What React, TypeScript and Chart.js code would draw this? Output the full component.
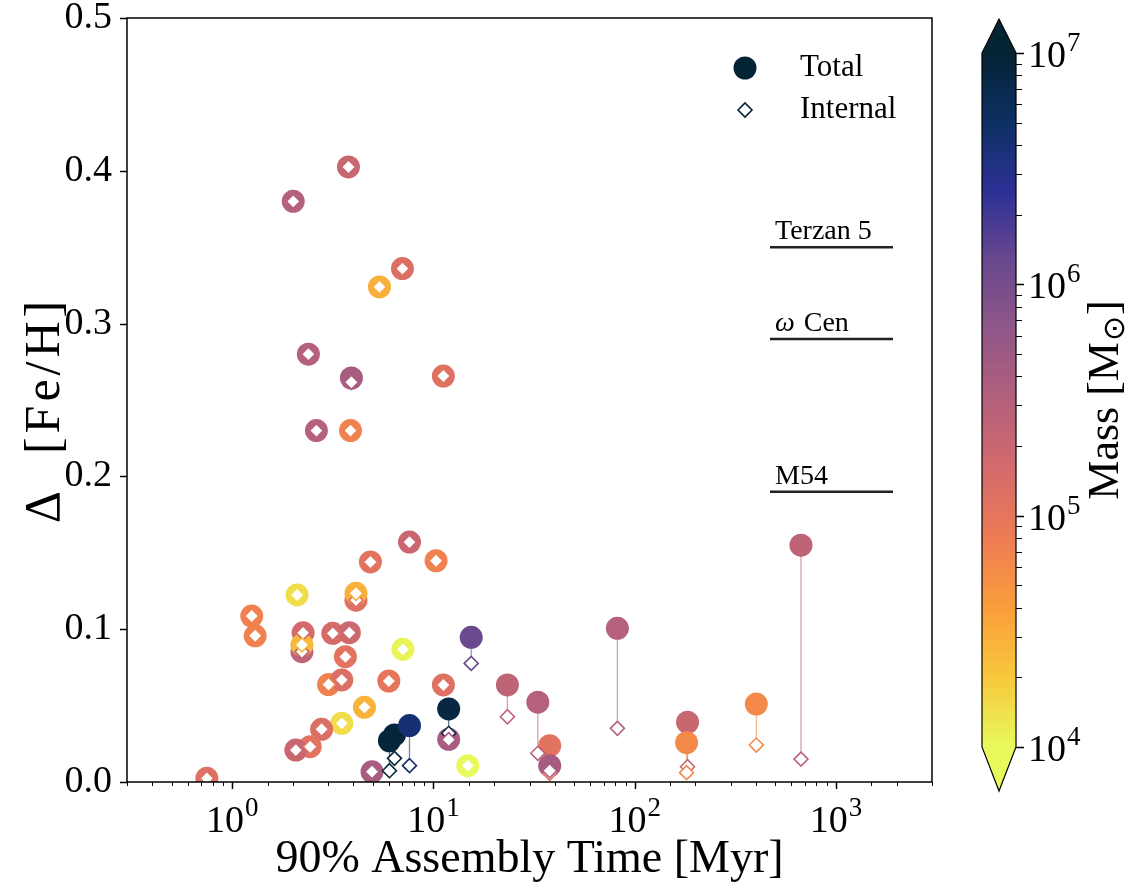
import React, { useEffect, useRef } from "react";
import { Chart, registerables } from "chart.js";

Chart.register(...registerables);

const W = 1145;
const H = 888;
const FONT = '"Liberation Serif", "Times New Roman", serif';

// 90% assembly time [Myr]
const assemblyTime = [
  3.78, 2.01, 7.01, 5.39, 2.39, 3.91, 11.2, 2.62, 3.87, 7.6,
  4.86, 10.3, 2.1, 4.12, 4.12, 1.25, 1.3, 2.25, 2.22, 2.22,
  3.16, 3.82, 3.65, 7.05, 3.01, 3.5, 6.0, 11.2, 4.54, 3.5,
  2.78, 2.44, 2.07, 0.748, 4.95, 14.8, 6.04, 6.4, 7.6, 11.9,
  11.9, 15.4, 23.3, 33.0, 37.8, 37.8, 82, 183, 181, 402, 670,
];
// Total Delta [Fe/H]
const totalSpread = [
  0.4025, 0.38, 0.336, 0.324, 0.28, 0.2644, 0.2657, 0.23, 0.23, 0.157,
  0.144, 0.1448, 0.1224, 0.119, 0.1235, 0.1086, 0.0957, 0.0976, 0.0853, 0.0897,
  0.0973, 0.0977, 0.082, 0.0868, 0.0638, 0.0668, 0.0661, 0.0635, 0.0489, 0.0384,
  0.0345, 0.0231, 0.0209, 0.0024, 0.0067, 0.0107, 0.027, 0.0308, 0.0369, 0.0478,
  0.0279, 0.0947, 0.0635, 0.0522, 0.0238, 0.0107, 0.1006, 0.0391, 0.0257, 0.051, 0.155,
];
// Internal Delta [Fe/H]
const internalSpread = [
  0.4025, 0.38, 0.336, 0.324, 0.28, 0.2616, 0.2657, 0.23, 0.23, 0.157,
  0.144, 0.1448, 0.1224, 0.119, 0.1235, 0.1086, 0.0957, 0.0976, 0.0853, 0.0897,
  0.0973, 0.0977, 0.082, 0.0868, 0.0638, 0.0668, 0.0661, 0.0635, 0.0489, 0.0384,
  0.0345, 0.0231, 0.0209, 0.0024, 0.0067, 0.0107, 0.0074, 0.0155, 0.0107, 0.0319,
  0.0277, 0.0776, 0.0427, 0.0188, 0.0057, 0.0074, 0.0351, 0.01, 0.0061, 0.0242, 0.015,
];
// Mass [Msun]
const clusterMass = [
  2e5, 3e5, 1.3e5, 3e4, 3e5, 4e5, 1.2e5, 3e5, 7e4, 2e5,
  1.1e5, 7e4, 1.5e4, 1.2e5, 3e4, 7e4, 7e4, 1.6e5, 2.5e5, 2.5e4,
  1.5e5, 1.8e5, 1.1e5, 1.1e4, 7e4, 1.3e5, 1e5, 1.2e5, 2.8e4, 1.5e4,
  1.3e5, 1.1e5, 2e5, 1.2e5, 4e5, 1e4, 9e6, 9e6, 4e6, 8e6,
  4e5, 1.2e6, 2.5e5, 3e5, 1.1e5, 4e5, 3e5, 2e5, 6e4, 6e4, 2.5e5,
];

const yTicks = [0, 0.1, 0.2, 0.3, 0.4, 0.5];
const xDecades = [0, 1, 2, 3];
const massDecades = [4, 5, 6, 7];
const refNames = ["Terzan 5", "ω Cen", "M54"];
const refSpread = [0.35, 0.29, 0.19];
const refTimeRange = [470, 1920];
const legendLabels = ["Total", "Internal"];

const thermalStops = [
  [4, 35, 51], [13, 48, 100], [45, 48, 150], [105, 72, 142], [145, 87, 136],
  [180, 96, 124], [212, 106, 108], [238, 124, 84], [250, 158, 59], [247, 200, 60], [232, 250, 91],
];

function thermal(t: number): number[] {
  const tt = Math.min(1, Math.max(0, t)) * (thermalStops.length - 1);
  const i = Math.min(thermalStops.length - 2, Math.floor(tt));
  const f = tt - i;
  const a = thermalStops[i];
  const b = thermalStops[i + 1];
  return [0, 1, 2].map((k) => Math.round(a[k] + (b[k] - a[k]) * f));
}

function massColor(m: number, alpha = 1): string {
  const t = (Math.log10(m) - 4) / 3;
  const c = thermal(1 - t);
  return `rgba(${c[0]},${c[1]},${c[2]},${alpha})`;
}

const AREA = { left: 127, top: 18, right: 932, bottom: 782 };
const CB = { left: 982, right: 1016, top: 53, bottom: 747, apexTop: 19, apexBottom: 791 };

function drawPow(ctx: CanvasRenderingContext2D, base: string, exp: string, x: number, y: number, size: number, align: string) {
  ctx.font = `${size}px ${FONT}`;
  const bw = ctx.measureText(base).width;
  const es = Math.round(size * 0.72);
  ctx.font = `${es}px ${FONT}`;
  const ew = ctx.measureText(exp).width;
  const total = bw + ew + 1;
  const x0 = align === "center" ? x - total / 2 : x;
  ctx.textAlign = "left";
  ctx.textBaseline = "alphabetic";
  ctx.font = `${size}px ${FONT}`;
  ctx.fillText(base, x0, y);
  ctx.font = `${es}px ${FONT}`;
  ctx.fillText(exp, x0 + bw + 1, y - size * 0.42);
}

const decorPlugin = {
  id: "decor",
  afterDraw(chart: any) {
    const ctx: CanvasRenderingContext2D = chart.ctx;
    const xs = chart.scales.x;
    const ys = chart.scales.y;
    const a = chart.chartArea;
    ctx.save();
    ctx.fillStyle = "#000";
    ctx.strokeStyle = "#000";

    // frame
    ctx.lineWidth = 1.5;
    ctx.strokeRect(a.left, a.top, a.right - a.left, a.bottom - a.top);

    // x ticks
    for (const t of xs.ticks) {
      const v = t.value;
      if (v < xs.min * 0.999 || v > xs.max * 1.001) continue;
      const lg = Math.log10(v);
      const major = Math.abs(lg - Math.round(lg)) < 1e-6;
      const px = Math.round(xs.getPixelForValue(v)) + 0.5;
      ctx.lineWidth = major ? 1.5 : 1;
      ctx.beginPath();
      ctx.moveTo(px, a.bottom);
      ctx.lineTo(px, a.bottom + (major ? 7 : 4));
      ctx.stroke();
    }
    for (const d of xDecades) {
      const px = xs.getPixelForValue(Math.pow(10, d));
      drawPow(ctx, "10", String(d), px, 832, 38, "center");
    }
    // y ticks
    for (const v of yTicks) {
      const py = Math.round(ys.getPixelForValue(v)) + 0.5;
      ctx.lineWidth = 1.5;
      ctx.beginPath();
      ctx.moveTo(a.left, py);
      ctx.lineTo(a.left - 7, py);
      ctx.stroke();
    }

    // axis titles
    ctx.textAlign = "center";
    ctx.textBaseline = "alphabetic";
    ctx.font = `46px ${FONT}`;
    ctx.fillText("90% Assembly Time [Myr]", (a.left + a.right) / 2, 872);
    ctx.save();
    ctx.translate(59, (a.top + a.bottom) / 2 + 10);
    ctx.rotate(-Math.PI / 2);
    ctx.font = `50px ${FONT}`;
    (ctx as any).letterSpacing = "4px";
    ctx.fillText("Δ  [Fe/H]", 0, 0);
    (ctx as any).letterSpacing = "0px";
    ctx.restore();

    // reference labels
    ctx.textAlign = "left";
    ctx.font = `28px ${FONT}`;
    refNames.forEach((name, i) => {
      const py = ys.getPixelForValue(refSpread[i]);
      const px = xs.getPixelForValue(refTimeRange[0]) + 5;
      if (name.startsWith("ω")) {
        ctx.font = `italic 28px ${FONT}`;
        ctx.fillText("ω", px, py - 8);
        const w = ctx.measureText("ω ").width;
        ctx.font = `28px ${FONT}`;
        ctx.fillText(name.slice(2), px + w + 2, py - 8);
      } else {
        ctx.fillText(name, px, py - 8);
      }
    });

    // legend
    const lc = massColor(1e7);
    ctx.fillStyle = lc;
    ctx.beginPath();
    ctx.arc(745, 68, 11.5, 0, Math.PI * 2);
    ctx.fill();
    ctx.beginPath();
    ctx.moveTo(738, 110);
    ctx.lineTo(745, 103);
    ctx.lineTo(752, 110);
    ctx.lineTo(745, 117);
    ctx.closePath();
    ctx.fillStyle = "#fff";
    ctx.fill();
    ctx.strokeStyle = lc;
    ctx.lineWidth = 1.6;
    ctx.stroke();
    ctx.fillStyle = "#000";
    ctx.font = `31px ${FONT}`;
    ctx.textBaseline = "middle";
    ctx.fillText(legendLabels[0], 800, 68);
    ctx.fillText(legendLabels[1], 800, 110);

    // colorbar
    const cbH = CB.bottom - CB.top;
    for (let y = CB.top; y < CB.bottom; y++) {
      const m = Math.pow(10, 4 + (3 * (CB.bottom - (y + 0.5))) / cbH);
      ctx.fillStyle = massColor(m);
      ctx.fillRect(CB.left, y, CB.right - CB.left, 1.2);
    }
    const mid = (CB.left + CB.right) / 2;
    ctx.fillStyle = massColor(1e7);
    ctx.beginPath();
    ctx.moveTo(CB.left, CB.top + 0.5);
    ctx.lineTo(mid, CB.apexTop);
    ctx.lineTo(CB.right, CB.top + 0.5);
    ctx.closePath();
    ctx.fill();
    ctx.fillStyle = massColor(1e4);
    ctx.beginPath();
    ctx.moveTo(CB.left, CB.bottom - 0.5);
    ctx.lineTo(mid, CB.apexBottom);
    ctx.lineTo(CB.right, CB.bottom - 0.5);
    ctx.closePath();
    ctx.fill();
    ctx.strokeStyle = "#000";
    ctx.lineWidth = 1.2;
    ctx.beginPath();
    ctx.moveTo(CB.left, CB.top);
    ctx.lineTo(mid, CB.apexTop);
    ctx.lineTo(CB.right, CB.top);
    ctx.lineTo(CB.right, CB.bottom);
    ctx.lineTo(mid, CB.apexBottom);
    ctx.lineTo(CB.left, CB.bottom);
    ctx.closePath();
    ctx.stroke();
    // colorbar ticks
    const cbY = (m: number) => CB.bottom - ((Math.log10(m) - 4) / 3) * cbH;
    for (let e = 4; e <= 7; e++) {
      for (let s = 1; s <= 9; s++) {
        if (e === 7 && s > 1) break;
        const m = s * Math.pow(10, e);
        const py = Math.round(cbY(m)) + 0.5;
        const major = s === 1;
        ctx.lineWidth = major ? 1.5 : 1;
        ctx.beginPath();
        ctx.moveTo(CB.right, py);
        ctx.lineTo(CB.right + (major ? 8 : 6), py);
        ctx.stroke();
      }
    }
    ctx.fillStyle = "#000";
    for (const d of massDecades) {
      const py = cbY(Math.pow(10, d));
      drawPow(ctx, "10", String(d), 1028, py + 14, 38, "left");
    }
    // colorbar title
    ctx.save();
    ctx.translate(1118, (CB.top + CB.bottom) / 2);
    ctx.rotate(-Math.PI / 2);
    ctx.textBaseline = "alphabetic";
    const p1 = "Mass [M";
    const p2 = "⊙";
    const p3 = "]";
    ctx.font = `44px ${FONT}`;
    const w1 = ctx.measureText(p1).width;
    const w3 = ctx.measureText(p3).width;
    ctx.font = `30px "DejaVu Sans", ${FONT}`;
    const w2 = ctx.measureText(p2).width;
    const tw = w1 + w2 + w3 + 2;
    const x0 = -tw / 2;
    ctx.font = `44px ${FONT}`;
    ctx.fillText(p1, x0, 0);
    ctx.font = `30px "DejaVu Sans", ${FONT}`;
    ctx.fillText(p2, x0 + w1 + 1, 6);
    ctx.font = `44px ${FONT}`;
    ctx.fillText(p3, x0 + w1 + w2 + 2, 0);
    ctx.restore();

    ctx.restore();
  },
};

export default function App() {
  const ref = useRef<HTMLCanvasElement | null>(null);
  useEffect(() => {
    document.body.style.margin = "0";
    const canvas = ref.current;
    if (!canvas) return;
    const lineSets = assemblyTime.map((x, i) => ({
      type: "scatter" as const,
      data: [
        { x, y: totalSpread[i] },
        { x, y: internalSpread[i] },
      ],
      showLine: true,
      borderColor: massColor(clusterMass[i], 0.6),
      borderWidth: 1.3,
      pointRadius: 0,
      clip: 0,
      order: 2,
    }));
    const refSets = refSpread.map((v) => ({
      type: "scatter" as const,
      data: [
        { x: refTimeRange[0], y: v },
        { x: refTimeRange[1], y: v },
      ],
      showLine: true,
      borderColor: "#222",
      borderWidth: 2.5,
      pointRadius: 0,
      clip: 0,
      order: 3,
    }));
    const totals = {
      type: "scatter" as const,
      data: assemblyTime.map((x, i) => ({ x, y: totalSpread[i] })),
      pointRadius: 11.5,
      pointBorderWidth: 0,
      pointBackgroundColor: clusterMass.map((m) => massColor(m)),
      pointBorderColor: clusterMass.map((m) => massColor(m)),
      clip: 0,
      order: 1,
    };
    const internals = {
      type: "scatter" as const,
      data: assemblyTime.map((x, i) => ({ x, y: internalSpread[i] })),
      pointStyle: "rectRot" as const,
      pointRadius: 7,
      pointBorderWidth: 1.6,
      pointBackgroundColor: "#ffffff",
      pointBorderColor: clusterMass.map((m) => massColor(m)),
      clip: 0,
      order: 0,
    };
    const chart = new Chart(canvas, {
      type: "scatter",
      data: { datasets: [internals, totals, ...lineSets, ...refSets] as any },
      options: {
        responsive: false,
        animation: false,
        devicePixelRatio: 1,
        events: [],
        layout: { padding: { top: AREA.top, right: W - AREA.right, left: 0, bottom: 0 } },
        plugins: { legend: { display: false }, tooltip: { enabled: false } },
        scales: {
          x: {
            type: "logarithmic",
            min: 0.3,
            max: 3000,
            position: "bottom",
            grid: { display: false, drawTicks: false },
            border: { display: false },
            ticks: { display: false },
            afterFit: (s: any) => {
              s.height = H - AREA.bottom;
              s.paddingLeft = 0;
              s.paddingRight = 0;
            },
          },
          y: {
            type: "linear",
            min: 0,
            max: 0.5,
            grid: { display: false, drawTicks: false },
            border: { display: false },
            ticks: {
              stepSize: 0.1,
              padding: 15,
              color: "#000",
              font: { family: FONT, size: 38 },
              callback: (v: any) => Number(v).toFixed(1),
            },
            afterFit: (s: any) => {
              s.width = AREA.left;
              s.paddingTop = 0;
              s.paddingBottom = 0;
            },
          },
        },
      },
      plugins: [decorPlugin],
    });
    return () => chart.destroy();
  }, []);
  return (
    <div style={{ position: "absolute", left: 0, top: 0, width: W, height: H, background: "#fff" }}>
      <canvas ref={ref} width={W} height={H} style={{ display: "block" }} />
    </div>
  );
}
